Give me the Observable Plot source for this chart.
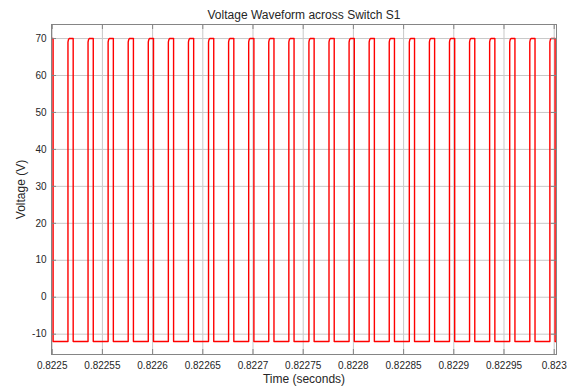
<!DOCTYPE html>
<html><head><meta charset="utf-8">
<script src="https://cdn.jsdelivr.net/npm/d3@7"></script>
<script src="https://cdn.jsdelivr.net/npm/@observablehq/plot@0.6"></script>
<style>body{margin:0;background:#fff} svg{display:block}</style>
</head><body><div id="chart"></div>
<script>
const title = "Voltage Waveform across Switch S1";
const xLabel = "Time (seconds)";
const yLabel = "Voltage (V)";
const xTicks = [0.8225, 0.82255, 0.8226, 0.82265, 0.8227, 0.82275, 0.8228, 0.82285, 0.8229, 0.82295, 0.823];
const xTickLabels = ["0.8225","0.82255","0.8226","0.82265","0.8227","0.82275","0.8228","0.82285","0.8229","0.82295","0.823"];
const yTicks = [-10, 0, 10, 20, 30, 40, 50, 60, 70];
const xDomain = [0.8224993, 0.8230023];
const yDomain = [-15.5, 73.8];
const vLow = -12;
const vHigh = 70;
const tStart = 0.8224993;
const tEnd = 0.8230023;
const riseTimes = [0.8225157, 0.8225357, 0.8225557, 0.8225757, 0.8225957, 0.8226157, 0.8226357, 0.8226557, 0.8226757, 0.8226957,
  0.8227157, 0.8227357, 0.8227557, 0.8227757, 0.8227957, 0.8228157, 0.8228357, 0.8228557, 0.8228757, 0.8228957,
  0.8229157, 0.8229357, 0.8229557, 0.8229757, 0.8229957];
const fallTimes = [0.8225009, 0.8225209, 0.8225409, 0.8225609, 0.8225809, 0.8226009, 0.8226209, 0.8226409, 0.8226609, 0.8226809,
  0.8227009, 0.8227209, 0.8227409, 0.8227609, 0.8227809, 0.8228009, 0.8228209, 0.8228409, 0.8228609, 0.8228809,
  0.8229009, 0.8229209, 0.8229409, 0.8229609, 0.8229809, 0.8230009];
// small rounded corner at the top of each rising edge
const cornerDt = [0, 0.0000005, 0.0000012];
const cornerV = [69.0, 69.7, 70];

const pts = [];
pts.push({t: tStart, v: vHigh});
pts.push({t: fallTimes[0], v: vHigh});
pts.push({t: fallTimes[0], v: vLow});
riseTimes.forEach((r, k) => {
  pts.push({t: r, v: vLow});
  cornerDt.forEach((dt, j) => pts.push({t: r + dt, v: cornerV[j]}));
  pts.push({t: fallTimes[k + 1], v: vHigh});
  pts.push({t: fallTimes[k + 1], v: vLow});
});
pts.push({t: tEnd, v: vLow});

const W = 574, H = 390, mt = 24, mr = 18, mb = 36, ml = 51;
const fw = W - ml - mr, fh = H - mt - mb;
const gridColor = "#c8c8c8";
const axisColor = "#858585";
const font = "'Liberation Sans', Arial, Helvetica, sans-serif";

const chart = Plot.plot({
  width: W, height: H,
  marginTop: mt, marginRight: mr, marginBottom: mb, marginLeft: ml,
  style: {fontFamily: font, color: "#262626", background: "#fff", fontSize: "10px"},
  x: {domain: xDomain, ticks: xTicks, label: null},
  y: {domain: yDomain, ticks: yTicks, label: null},
  marks: [
    Plot.gridX(xTicks, {stroke: gridColor, strokeOpacity: 1}),
    Plot.gridY(yTicks, {stroke: gridColor, strokeOpacity: 1}),
    Plot.line(pts, {x: "t", y: "v", stroke: "#ff0000", strokeWidth: 1.4, clip: true}),
    Plot.frame({stroke: axisColor}),
    Plot.ruleX(xTicks, {x: d => d, insetTop: fh - 5, stroke: axisColor}),
    Plot.ruleX(xTicks, {x: d => d, insetBottom: fh - 5, stroke: axisColor}),
    Plot.ruleY(yTicks, {y: d => d, insetRight: fw - 5, stroke: axisColor}),
    Plot.ruleY(yTicks, {y: d => d, insetLeft: fw - 5, stroke: axisColor}),
    Plot.axisX({ticks: xTicks, tickFormat: d => xTickLabels[xTicks.indexOf(d)], tickSize: 0, tickPadding: 7, label: null, fontSize: 10}),
    Plot.axisY({ticks: yTicks, tickFormat: d => String(d), tickSize: 0, tickPadding: 5, label: null, fontSize: 10}),
    Plot.text([title], {text: d => d, frameAnchor: "top", lineAnchor: "middle", dy: -9.5, fontSize: 12}),
    Plot.text([xLabel], {text: d => d, frameAnchor: "bottom", lineAnchor: "middle", dy: 25, fontSize: 12}),
    Plot.text([yLabel], {text: d => d, frameAnchor: "left", textAnchor: "middle", lineAnchor: "middle", dx: -30, rotate: -90, fontSize: 12})
  ]
});
document.getElementById("chart").appendChild(chart);
</script>
</body></html>
